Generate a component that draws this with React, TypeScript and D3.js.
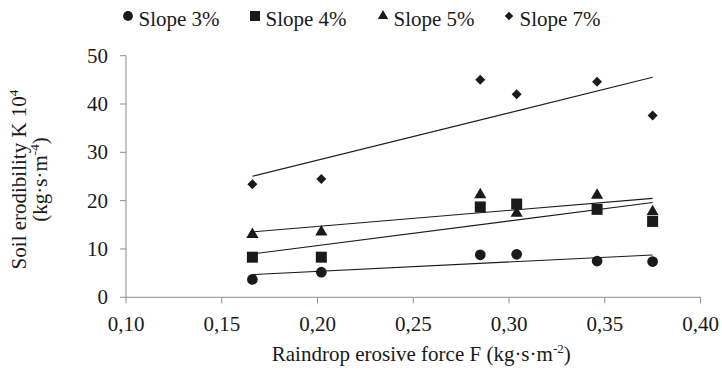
import React from "react";
import * as d3 from "d3";

const forceX = [0.166, 0.202, 0.285, 0.304, 0.346, 0.375];
const slope3 = [3.7, 5.2, 8.8, 8.9, 7.5, 7.4];
const slope4 = [8.3, 8.3, 18.7, 19.3, 18.2, 15.7];
const slope5 = [13.0, 13.5, 21.2, 17.4, 21.1, 17.7];
const slope7 = [23.4, 24.5, 45.0, 42.0, 44.6, 37.6];
const seriesNames = ["Slope 3%", "Slope 4%", "Slope 5%", "Slope 7%"];
const xTicks = [0.1, 0.15, 0.2, 0.25, 0.3, 0.35, 0.4];
const yTicks = [0, 10, 20, 30, 40, 50];

const W = 722, H = 370;
const M = { left: 126, right: 21.5, top: 55.7, bottom: 72.7 };
const FONT = "Liberation Serif";
const INK = "#1a1a1a";
const AXIS = "#8c8c8c";
const ts: React.CSSProperties = { fontFamily: FONT };

type Shape = "circle" | "square" | "triangle" | "diamond";
const shapes: Shape[] = ["circle", "square", "triangle", "diamond"];
const allSeries = [slope3, slope4, slope5, slope7];

function symbolPath(shape: Shape, big: boolean): { d: string; rot: number } {
  if (shape === "circle") return { d: d3.symbol(d3.symbolCircle, big ? 90 : 75)()!, rot: 0 };
  if (shape === "square") return { d: d3.symbol(d3.symbolSquare, big ? 121 : 100)()!, rot: 0 };
  if (shape === "triangle") return { d: d3.symbol(d3.symbolTriangle, big ? 64 : 46)()!, rot: 0 };
  return { d: d3.symbol(d3.symbolSquare, big ? 50 : 36)()!, rot: 45 };
}

function regression(xs: number[], ys: number[]) {
  const mx = d3.mean(xs)!, my = d3.mean(ys)!;
  let sxy = 0, sxx = 0;
  xs.forEach((x, i) => { sxy += (x - mx) * (ys[i] - my); sxx += (x - mx) ** 2; });
  const b = sxy / sxx;
  const a = my - b * mx;
  return (x: number) => a + b * x;
}

export default function App() {
  const x = d3.scaleLinear().domain([0.1, 0.4]).range([M.left, W - M.right]);
  const y = d3.scaleLinear().domain([0, 50]).range([H - M.bottom, M.top]);
  const line = d3.line<[number, number]>().x(d => x(d[0])).y(d => y(d[1]));
  const fmt = (v: number) => v.toFixed(2).replace(".", ",");
  const x0 = d3.min(forceX)!, x1 = d3.max(forceX)!;
  const legendX = [128, 255, 383, 509];

  return (
    <svg width={W} height={H} style={{ position: "absolute", left: 0, top: 0, background: "#fff", fontFamily: FONT }}>
      <rect width={W} height={H} fill="#fff" />
      {/* Legend */}
      {seriesNames.map((name, i) => {
        const s = symbolPath(shapes[i], false);
        return (
          <g key={name}>
            <path d={s.d} transform={`translate(${legendX[i]},16) rotate(${s.rot})`} fill={INK} />
            <text x={legendX[i] + 10.5} y={26} fontSize={21} fill={INK} style={ts}>{name}</text>
          </g>
        );
      })}
      {/* Axes */}
      <line x1={x(0.1)} x2={x(0.1)} y1={y(50)} y2={y(0)} stroke={AXIS} strokeWidth={1} />
      <line x1={x(0.1)} x2={x(0.4)} y1={y(0)} y2={y(0)} stroke={AXIS} strokeWidth={1} />
      {yTicks.map(t => (
        <g key={t}>
          <line x1={x(0.1) - 6} x2={x(0.1)} y1={y(t)} y2={y(t)} stroke={AXIS} />
          <text x={108} y={y(t) + 7} textAnchor="end" fontSize={21} fill={INK} style={ts}>{t}</text>
        </g>
      ))}
      {xTicks.map(t => (
        <g key={t}>
          <line x1={x(t)} x2={x(t)} y1={y(0)} y2={y(0) + 6} stroke={AXIS} />
          <text x={x(t)} y={331} textAnchor="middle" fontSize={21} fill={INK} style={ts}>{fmt(t)}</text>
        </g>
      ))}
      {/* Axis titles */}
      <text x={(M.left + W - M.right) / 2 + 8} y={361} textAnchor="middle" fontSize={21} fill={INK} style={ts}>
        Raindrop erosive force F (kg·s·m<tspan fontSize={13} dy={-8}>-2</tspan><tspan dy={8}>)</tspan>
      </text>
      <g transform={`translate(0,${(y(0) + y(50)) / 2 + 3}) rotate(-90)`}>
        <text x={0} y={26} textAnchor="middle" fontSize={21} fill={INK} style={ts}>
          Soil erodibility K 10<tspan fontSize={13} dy={-8}>4</tspan>
        </text>
        <text x={0} y={47} textAnchor="middle" fontSize={21} fill={INK} style={ts}>
          (kg·s·m<tspan fontSize={13} dy={-8}>-4</tspan><tspan dy={8}>)</tspan>
        </text>
      </g>
      {/* Trend lines */}
      {allSeries.map((ys, i) => {
        const f = regression(forceX, ys);
        return <path key={"t" + i} d={line([[x0, f(x0)], [x1, f(x1)]])!} fill="none" stroke={INK} strokeWidth={1.1} />;
      })}
      {/* Points */}
      {allSeries.map((ys, i) => {
        const s = symbolPath(shapes[i], true);
        return (
          <g key={"p" + i}>
            {ys.map((v, j) => (
              <path key={j} d={s.d} transform={`translate(${x(forceX[j])},${y(v)}) rotate(${s.rot})`} fill={INK} />
            ))}
          </g>
        );
      })}
    </svg>
  );
}
